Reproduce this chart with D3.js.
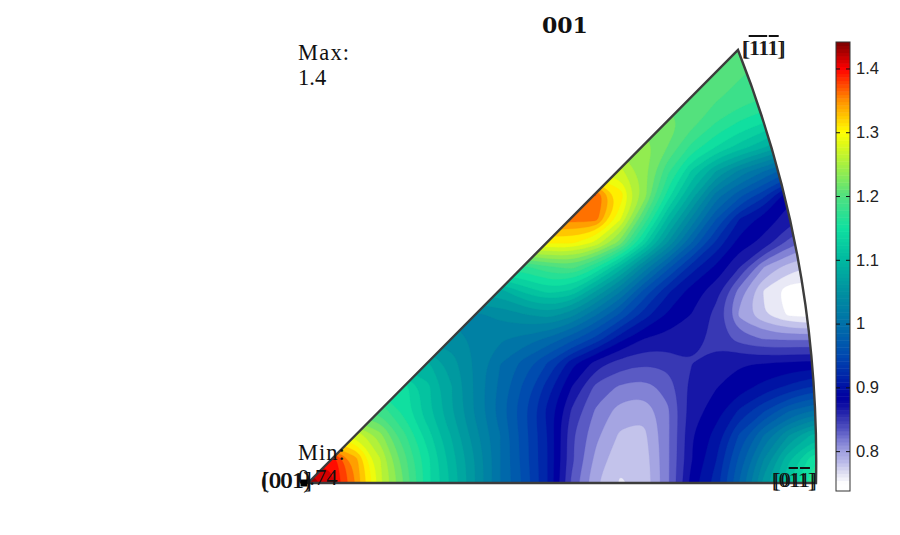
<!DOCTYPE html>
<html>
<head>
<meta charset="utf-8">
<script src="https://cdn.jsdelivr.net/npm/d3@7"></script>
<style>
  html, body { margin: 0; background: #fff; }
  text { fill: #111; font-family: "Liberation Serif", serif; }
  .bar-axis text { font-family: "Liberation Sans", sans-serif; font-size: 16.5px; fill: #222; }
  .bar-axis path { display: none; }
  .bar-axis line { stroke: #111; }
</style>
</head>
<body>
<svg id="svg_ipf" width="900" height="535"></svg>
<script>
// Inverse pole figure, values on a regular grid.
// One row per grid line, bottom edge of the triangle first, left to right.
const density = [
  [1.44,1.41,1.35,1.27,1.21,1.145,1.10,1.05,1.00,.96,.91,.835,.79,.768,.775,.82,.885,.92,.985,1.06,1.12,1.17,1.20],
  [1.40,1.40,1.34,1.265,1.20,1.145,1.095,1.05,1.00,.955,.91,.845,.80,.775,.778,.82,.875,.91,.97,1.035,1.10,1.15,1.17],
  [1.28,1.28,1.28,1.235,1.18,1.13,1.085,1.04,1.00,.955,.91,.843,.81,.785,.783,.82,.875,.90,.95,1.00,1.05,1.09,1.10],
  [1.19,1.19,1.19,1.19,1.15,1.11,1.07,1.03,.99,.95,.905,.855,.82,.797,.792,.82,.868,.885,.915,.945,.98,1.00,1.01],
  [1.15,1.15,1.15,1.15,1.15,1.11,1.07,1.03,.995,.96,.92,.875,.835,.82,.815,.83,.866,.875,.885,.90,.915,.93,.94],
  [1.09,1.09,1.09,1.09,1.09,1.09,1.06,1.03,1.00,.975,.945,.90,.868,.85,.843,.845,.858,.868,.875,.875,.878,.88,.88],
  [1.045,1.045,1.045,1.045,1.045,1.045,1.045,1.03,1.02,1.01,.995,.97,.94,.90,.875,.87,.868,.852,.832,.822,.82,.82,.82],
  [1.03,1.03,1.03,1.03,1.03,1.03,1.03,1.03,1.04,1.05,1.06,1.04,1.00,.96,.92,.89,.875,.852,.80,.772,.75,.745,.75],
  [1.08,1.08,1.08,1.08,1.08,1.08,1.08,1.08,1.08,1.11,1.13,1.12,1.07,1.02,.96,.915,.885,.866,.814,.768,.742,.74,.745],
  [1.17,1.17,1.17,1.17,1.17,1.17,1.17,1.17,1.17,1.17,1.19,1.20,1.16,1.10,1.03,.97,.92,.89,.858,.805,.78,.77,.78],
  [1.30,1.30,1.30,1.30,1.30,1.30,1.30,1.30,1.30,1.30,1.30,1.30,1.275,1.22,1.13,1.05,.98,.925,.885,.87,.835,.81,.81],
  [1.36,1.36,1.36,1.36,1.36,1.36,1.36,1.36,1.36,1.36,1.36,1.36,1.36,1.285,1.19,1.10,1.03,.965,.91,.885,.87,.85,.85],
  [1.37,1.37,1.37,1.37,1.37,1.37,1.37,1.37,1.37,1.37,1.37,1.37,1.37,1.31,1.24,1.15,1.08,1.01,.97,.935,.88,.88,.88],
  [1.27,1.27,1.27,1.27,1.27,1.27,1.27,1.27,1.27,1.27,1.27,1.27,1.27,1.27,1.235,1.18,1.12,1.07,1.03,1.00,.97,.95,.95],
  [1.24,1.24,1.24,1.24,1.24,1.24,1.24,1.24,1.24,1.24,1.24,1.24,1.24,1.24,1.24,1.21,1.17,1.14,1.115,1.09,1.06,1.05,1.05],
  [1.22,1.22,1.22,1.22,1.22,1.22,1.22,1.22,1.22,1.22,1.22,1.22,1.22,1.22,1.22,1.22,1.20,1.175,1.155,1.14,1.12,1.12,1.12],
  [1.205,1.205,1.205,1.205,1.205,1.205,1.205,1.205,1.205,1.205,1.205,1.205,1.205,1.205,1.205,1.205,1.205,1.195,1.185,1.175,1.165,1.165,1.165],
  [1.20,1.20,1.20,1.20,1.20,1.20,1.20,1.20,1.20,1.20,1.20,1.20,1.20,1.20,1.20,1.20,1.20,1.20,1.195,1.185,1.18,1.18,1.18],
  [1.20,1.20,1.20,1.20,1.20,1.20,1.20,1.20,1.20,1.20,1.20,1.20,1.20,1.20,1.20,1.20,1.20,1.20,1.20,1.195,1.19,1.19,1.19],
  [1.20,1.20,1.20,1.20,1.20,1.20,1.20,1.20,1.20,1.20,1.20,1.20,1.20,1.20,1.20,1.20,1.20,1.20,1.20,1.20,1.20,1.20,1.20]
];

const barTicks = [0.8, 0.9, 1, 1.1, 1.2, 1.3, 1.4];
const colorStops = [.74, .75, .766, .784, .80, .819, .836, .854, .871, .885, .95, 1.0, 1.05, 1.1, 1.15, 1.2, 1.25, 1.3, 1.35, 1.4, 1.44];
const colorValues = ['#ffffff', '#ffffff', '#e0e0f2', '#b8b8e8', '#a0a0e0', '#7878d2', '#5050c0', '#3030b0', '#1010a4', '#0000a0',
  '#0048b0', '#0070a8', '#0090a0', '#00b8a0', '#10e0a0', '#50e080', '#a8f040', '#ffff00', '#ff9000', '#ff0000', '#800000'];

const valueMin = 0.735, valueMax = 1.44, bandCount = 40;

const svg = d3.select('#svg_ipf');
const color = d3.scaleLinear().domain(colorStops).range(colorValues).clamp(true);

/* Scales */

// grid index -> pixels
const xScale = d3.scaleLinear().domain([0, density[0].length - 1]).range([308, 836]);
const yScale = d3.scaleLinear().domain([0, density.length - 1]).range([483, 27]);

const step = (valueMax - valueMin) / bandCount;
const levels = d3.range(bandCount).map(i => valueMin + i * step);

/* Contour bands */

// Repeat the left column and the bottom row so the smoothed rings still cover the corners
const padded = [density[0], ...density].map(row => [row[0], ...row]);

const contours = d3.contours()
  .size([padded[0].length, padded.length])
  .thresholds(levels)(padded.flat());

// d3.contours puts grid point i at i + 0.5, and the padding adds one more
const ringLine = d3.line()
  .x(p => xScale(p[0] - 1.5))
  .y(p => yScale(p[1] - 1.5))
  .curve(d3.curveBasisClosed);

function bandPath(d) {
  return d.coordinates.flat().map(ring => ringLine(ring.slice(0, -1))).join('');
}

const outline = `M${xScale(0)},${yScale(0)} L816,${yScale(0)} A1121,1121 0 0 0 738,50 Z`;

svg.append('clipPath').attr('id', 'ipfClip').append('path').attr('d', outline);

svg.append('g').attr('clip-path', 'url(#ipfClip)')
  .selectAll('path')
  .data(contours)
  .join('path')
  .attr('d', bandPath)
  .attr('fill', d => color(d.value + step / 2))
  .attr('stroke', d => color(d.value + step / 2))
  .attr('stroke-width', 0.3);

svg.append('path')
  .attr('d', outline)
  .attr('fill', 'none')
  .attr('stroke', '#3c3c3c')
  .attr('stroke-width', 2.4);

/* Colorbar */

const barY = d3.scaleLinear().domain([0.7375, 1.4415]).range([491, 42]);
const barSteps = d3.range(0.7375, 1.4415, 0.0055);

svg.append('g').selectAll('rect')
  .data(barSteps)
  .join('rect')
  .attr('x', 836)
  .attr('width', 14)
  .attr('y', d => barY(d + 0.0055))
  .attr('height', d => barY(d) - barY(d + 0.0055) + 0.5)
  .attr('fill', d => color(d + 0.00275));

svg.append('rect')
  .attr('x', 836).attr('y', 42).attr('width', 14).attr('height', 449)
  .attr('fill', 'none').attr('stroke', '#333').attr('stroke-width', 1);

svg.append('g')
  .attr('class', 'bar-axis')
  .attr('transform', 'translate(850,0)')
  .call(d3.axisRight(barY).tickValues(barTicks).tickSizeInner(-4).tickSizeOuter(0).tickPadding(6).tickFormat(d3.format('~g')));

svg.append('g')
  .attr('class', 'bar-axis')
  .attr('transform', 'translate(836,0)')
  .call(d3.axisRight(barY).tickValues(barTicks).tickSizeInner(4).tickSizeOuter(0).tickFormat(''));

/* Text */

function addLabel(x, y, size, parts) {
  let t = svg.append('text')
    .attr('x', x).attr('y', y)
    .attr('font-size', size);
  parts.forEach(p => {
    t.append('tspan')
      .style('text-decoration', p.startsWith('~') ? 'overline' : 'none')
      .text(p.replace('~', ''));
  });
  return t;
}

addLabel(542, 33, 22, ['001'])
  .style('font-family', '"DejaVu Serif", serif')
  .attr('font-weight', 'bold');
addLabel(298, 60, 22.5, ['Max:']).attr('letter-spacing', 1.2);
addLabel(298, 85, 22.5, ['1.4']);
addLabel(298, 460, 22.5, ['Min:']).attr('letter-spacing', 1);
addLabel(298, 485, 22.5, ['0.74']);

addLabel(742, 55, 20, ['[', '~1', '~1', '1', ']']);
addLabel(743.5, 55, 20, ['[', '~1', '1', '~1', ']']);
addLabel(772, 487, 20, ['[', '0', '~1', '1', ']']);
addLabel(774, 487, 20, ['[', '0', '1', '~1', ']']);
addLabel(261, 488, 23, ['(001)']);
addLabel(262, 488, 23, ['[001]']);

svg.append('path')
  .attr('d', d3.symbol(d3.symbolSquare, 49))
  .attr('transform', `translate(304,${yScale(0)})`)
  .attr('fill', '#000');
</script>
</body>
</html>
